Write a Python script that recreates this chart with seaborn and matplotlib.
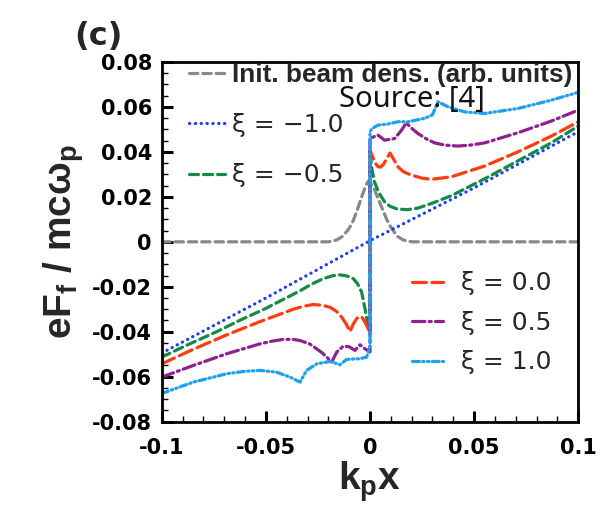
import matplotlib
matplotlib.use("Agg")
import matplotlib.pyplot as plt
import seaborn as sns
from matplotlib.lines import Line2D
from matplotlib.ticker import FixedLocator, FixedFormatter, MultipleLocator

# ---------------- data ----------------
# initial beam density profile (arbitrary units)
beam_x = [-0.1, -0.020, -0.016, -0.013, -0.010, -0.008, -0.006, -0.004, -0.002, -0.001,
          0.000, 0.002, 0.004, 0.006, 0.008, 0.010, 0.013, 0.016, 0.020, 0.1]
beam_y = [0.0, 0.0, 0.0008, 0.0025, 0.0060, 0.0095, 0.0145, 0.0200, 0.0250, 0.0268,
          0.0265, 0.0235, 0.0190, 0.0145, 0.0100, 0.0065, 0.0025, 0.0008, 0.0, 0.0]

# xi = -1.0
xm10_x = [-0.1, -0.05, 0.0, 0.05, 0.1]
xm10_y = [-0.0495, -0.0250, 0.0005, 0.0240, 0.0490]

# xi = -0.5
xm05_x = [-0.1, -0.0880, -0.0736, -0.0620, -0.0504, -0.0420, -0.0336, -0.0280, -0.0224,
          -0.0180, -0.0144, -0.0110, -0.0080, -0.0060, -0.0040, -0.0024, -0.0012, 0.0,
          0.0, 0.0008, 0.0020, 0.0035, 0.0048, 0.0070, 0.0096, 0.0130, 0.0180, 0.0230,
          0.0300, 0.0390, 0.0550, 0.0710, 0.0870, 0.1]
xm05_y = [-0.0513, -0.0460, -0.0400, -0.0347, -0.0298, -0.0258, -0.0218, -0.0188, -0.0164,
          -0.0151, -0.0147, -0.0152, -0.0164, -0.0186, -0.0224, -0.0298, -0.0360, -0.0400,
          0.0400, 0.0330, 0.0270, 0.0235, 0.0210, 0.0178, 0.0158, 0.0146, 0.0143, 0.0150,
          0.0172, 0.0205, 0.0280, 0.0360, 0.0440, 0.0515]

# xi = 0.0
x00_x = [-0.1, -0.0848, -0.0688, -0.0528, -0.0368, -0.0320, -0.0272, -0.0230, -0.0192,
         -0.0160, -0.0136, -0.0115, -0.0096, -0.0080, -0.0064, -0.0052, -0.0040, -0.0025,
         -0.0012, 0.0,
         0.0, 0.0012, 0.0025, 0.0038, 0.0050, 0.0065, 0.0080, 0.0096, 0.0115, 0.0134,
         0.0160, 0.0198, 0.0250, 0.0294, 0.0390, 0.0550, 0.0710, 0.0870, 0.1]
x00_y = [-0.0543, -0.0478, -0.0414, -0.0355, -0.0300, -0.0287, -0.0279, -0.0282, -0.0291,
         -0.0310, -0.0335, -0.0365, -0.0399, -0.0365, -0.0342, -0.0332, -0.0334, -0.0355,
         -0.0380, -0.0405,
         0.0405, 0.0380, 0.0350, 0.0335, 0.0332, 0.0345, 0.0370, 0.0395, 0.0365, 0.0334,
         0.0312, 0.0297, 0.0283, 0.0278, 0.0289, 0.0337, 0.0400, 0.0470, 0.0534]

# xi = 0.5
x05_x = [-0.1, -0.0848, -0.0688, -0.0528, -0.0470, -0.0416, -0.0370, -0.0336, -0.0290,
         -0.0256, -0.0230, -0.0208, -0.0184, -0.0160, -0.0128, -0.0100, -0.0072, -0.0048,
         -0.0024, 0.0,
         0.0, 0.0038, 0.0070, 0.0118, 0.0150, 0.0174, 0.0200, 0.0230, 0.0270, 0.0310,
         0.0360, 0.0422, 0.0480, 0.0550, 0.0710, 0.0870, 0.1]
x05_y = [-0.0602, -0.0550, -0.0498, -0.0454, -0.0442, -0.0434, -0.0434, -0.0439, -0.0454,
         -0.0476, -0.0494, -0.0513, -0.0535, -0.0491, -0.0464, -0.0467, -0.0483, -0.0458,
         -0.0476, -0.0490,
         0.0460, 0.0475, 0.0452, 0.0459, 0.0495, 0.0529, 0.0505, 0.0482, 0.0458, 0.0440,
         0.0430, 0.0426, 0.0430, 0.0440, 0.0485, 0.0537, 0.0586]

# xi = 1.0
x10_x = [-0.1, -0.0848, -0.0688, -0.0600, -0.0528, -0.0448, -0.0384, -0.0336, -0.0304,
         -0.0256, -0.0192, -0.0144, -0.0112, -0.0048, -0.0016, -0.0003, 0.0,
         0.0, 0.0010, 0.0038, 0.0086, 0.0134, 0.0182, 0.0262, 0.0300, 0.0326, 0.0374,
         0.0454, 0.0550, 0.0710, 0.0870, 0.1]
x10_y = [-0.0675, -0.0624, -0.0587, -0.0576, -0.0572, -0.0580, -0.0602, -0.0624, -0.0572,
         -0.0543, -0.0532, -0.0547, -0.0523, -0.0520, -0.0513, -0.0476, -0.0460,
         0.0490, 0.0504, 0.0519, 0.0524, 0.0534, 0.0534, 0.0549, 0.0565, 0.0623, 0.0601,
         0.0578, 0.0571, 0.0593, 0.0630, 0.0665]

x_ticks = [-0.1, -0.05, 0.0, 0.05, 0.1]
x_tick_labels = ["-0.1", "-0.05", "0", "0.05", "0.1"]
y_ticks = [-0.08, -0.06, -0.04, -0.02, 0.0, 0.02, 0.04, 0.06, 0.08]
y_tick_labels = ["-0.08", "-0.06", "-0.04", "-0.02", "0", "0.02", "0.04", "0.06", "0.08"]

# ---------------- style ----------------
sns.set_theme(style="white")
plt.rcParams["font.family"] = ["DejaVu Sans"]
plt.rcParams["lines.scale_dashes"] = False
plt.rcParams["mathtext.fontset"] = "custom"
plt.rcParams["mathtext.bf"] = "Liberation Sans:bold"
plt.rcParams["mathtext.rm"] = "Liberation Sans:bold"
plt.rcParams["mathtext.it"] = "Liberation Sans:bold"
plt.rcParams["mathtext.default"] = "bf"

fig = plt.figure(figsize=(6.16, 5.08), dpi=100)
ax = fig.add_axes([0.2625, 0.170, 0.6763, 0.708])

LW = 2.3
series = [
    dict(x=beam_x, y=beam_y, color="#888888", ls=(0, (6.0, 3.6)), label="Init. beam dens. (arb. units)"),
    dict(x=xm10_x, y=xm10_y, color="#1f3ff5", ls=(0, (0.2, 4.0)), label="ξ = −1.0"),
    dict(x=xm05_x, y=xm05_y, color="#138a47", ls=(0, (6.5, 3.6)), label="ξ = −0.5"),
    dict(x=x00_x, y=x00_y, color="#ff3c10", ls=(0, (10.0, 4.0)), label="ξ = 0.0"),
    dict(x=x05_x, y=x05_y, color="#8e218e", ls=(0, (9.0, 3.0, 1.5, 3.0)), label="ξ = 0.5"),
    dict(x=x10_x, y=x10_y, color="#1d9ff2", ls=(0, (5.0, 2.4, 1.0, 2.4, 1.0, 2.4)), label="ξ = 1.0"),
]

handles = []
for s in series:
    sns.lineplot(x=s["x"], y=s["y"], ax=ax, color=s["color"], linestyle=s["ls"],
                 linewidth=LW, estimator=None, sort=False, legend=False,
                 dash_capstyle="round")
    handles.append(Line2D([], [], color=s["color"], linestyle=s["ls"], linewidth=LW,
                          dash_capstyle="round", label=s["label"]))

ax.set_xlim(-0.1, 0.1)
ax.set_ylim(-0.08, 0.08)
ax.xaxis.set_major_locator(FixedLocator(x_ticks))
ax.xaxis.set_major_formatter(FixedFormatter(x_tick_labels))
ax.yaxis.set_major_locator(FixedLocator(y_ticks))
ax.yaxis.set_major_formatter(FixedFormatter(y_tick_labels))
ax.xaxis.set_minor_locator(MultipleLocator(0.01))
ax.yaxis.set_minor_locator(MultipleLocator(0.005))

ax.tick_params(which="major", direction="in", length=8, width=2.2, top=False, right=False,
               bottom=True, left=True, color="black")
ax.tick_params(which="minor", direction="in", length=4, width=1.0, top=False, right=False,
               bottom=True, left=True, color="black")
ax.tick_params(axis="x", which="major", pad=12)
ax.tick_params(axis="y", which="major", pad=7)
for lab in ax.get_xticklabels() + ax.get_yticklabels():
    lab.set_fontfamily("DejaVu Sans")
    lab.set_fontweight("bold")
    lab.set_fontsize(15)
    lab.set_color("black")

for sp in ax.spines.values():
    sp.set_visible(True)
    sp.set_color("black")
    sp.set_linewidth(2.0)

ax.set_xlabel(r"k$_{p}$x", fontsize=28, fontweight="bold", family="Liberation Sans",
              labelpad=1)
ax.set_ylabel(r"eF$_{f}$ / mcω$_{p}$", fontsize=28, fontweight="bold",
              family="Liberation Sans", labelpad=4)

# upper-left legend (beam density and negative xi)
leg1 = ax.legend(handles=handles[:3], loc="upper left", bbox_to_anchor=(0.307, 0.876),
                 bbox_transform=fig.transFigure, frameon=False, borderpad=0,
                 borderaxespad=0, handlelength=1.45, handletextpad=0.25,
                 labelspacing=1.05, prop=dict(family="DejaVu Sans", size=18))
txt0 = leg1.get_texts()[0]
txt0.set_fontfamily("Liberation Sans")
txt0.set_fontweight("bold")
txt0.set_fontsize(18.8)
ax.add_artist(leg1)

# lower-right legend (non-negative xi)
leg2 = ax.legend(handles=handles[3:], loc="upper left", bbox_to_anchor=(0.669, 0.466),
                 bbox_transform=fig.transFigure, frameon=False, borderpad=0,
                 borderaxespad=0, handlelength=1.25, handletextpad=0.7,
                 labelspacing=0.62, prop=dict(family="DejaVu Sans", size=18))

fig.text(0.160, 0.929, "(c)", fontsize=23, fontweight="bold", family="DejaVu Sans",
         ha="center", va="center")
fig.text(0.668, 0.790, "Source: [4]", fontsize=21, family="Noto Sans", color="#111111",
         ha="center", va="baseline")

fig.savefig("out.png", dpi=100)
